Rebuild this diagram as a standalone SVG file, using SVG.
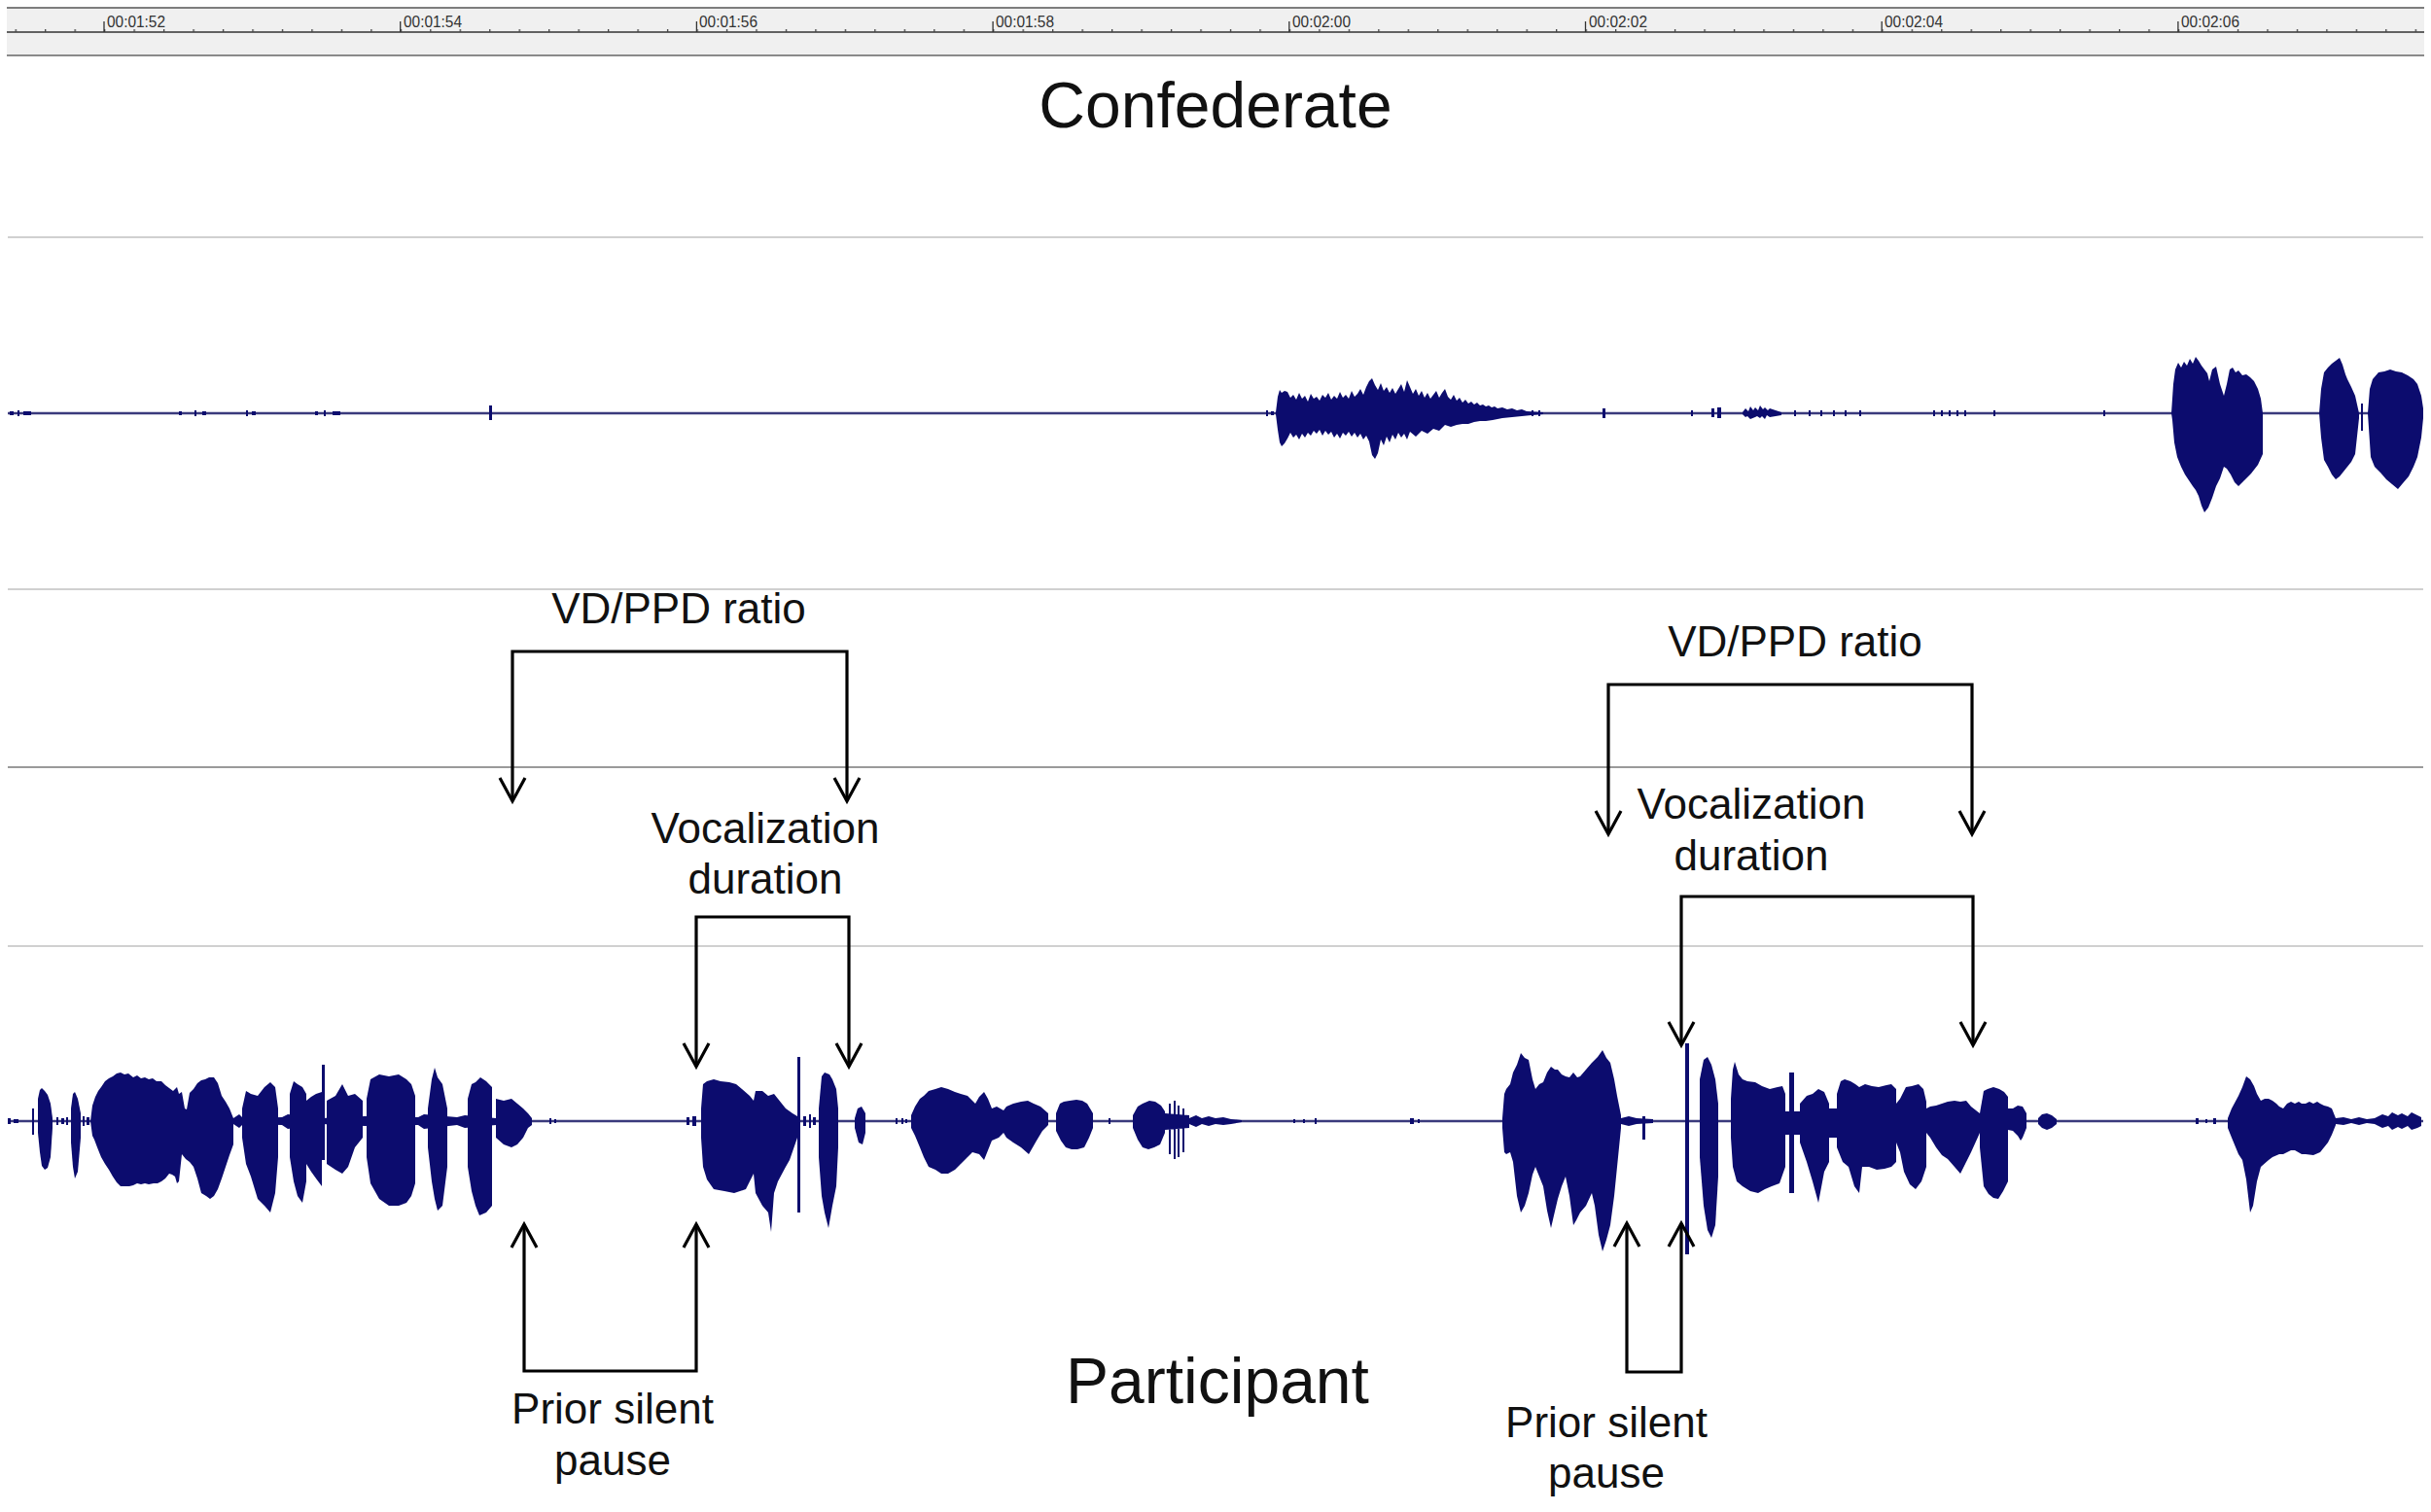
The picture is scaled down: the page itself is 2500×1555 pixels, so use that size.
<svg xmlns="http://www.w3.org/2000/svg" width="2500" height="1555" viewBox="0 0 2500 1555">
<defs>
<style>
.wave path{fill:#0c0c6e;}
.base{stroke:#3a3a7c;stroke-width:2.5;}
.grid{stroke:#d0d0d0;stroke-width:2;}
.grid-dark{stroke:#9a9a9a;stroke-width:2;}
.lbl{font-family:"Liberation Sans",Arial,sans-serif;font-size:44px;fill:#111;text-anchor:middle;}
.title{font-size:66px;}
.conn{fill:none;stroke:#000;stroke-width:3.2;marker-start:url(#arr);marker-end:url(#arr);}
.tl{font-family:"Liberation Sans",Arial,sans-serif;font-size:16px;fill:#333;}
</style>
<marker id="arr" markerUnits="userSpaceOnUse" markerWidth="40" markerHeight="40" viewBox="-30 -20 40 40" refX="0" refY="0" orient="auto-start-reverse">
<path d="M-24,-13 L0,0 L-24,13" fill="none" stroke="#000" stroke-width="3.2"/>
</marker>
<pattern id="minor" patternUnits="userSpaceOnUse" x="15.6" y="0" width="30.47" height="60">
<rect x="0" y="30" width="1.3" height="3" fill="#444"/>
</pattern>
</defs>
<rect width="2500" height="1555" fill="#fff"/>

<g id="ruler">
<rect x="7" y="8" width="2486" height="49" fill="#f0f0f0"/>
<line x1="7" y1="8" x2="2493" y2="8" stroke="#555" stroke-width="1.5"/>
<line x1="7" y1="57" x2="2493" y2="57" stroke="#8a8a8a" stroke-width="2"/>
<line x1="7" y1="33" x2="2493" y2="33" stroke="#333" stroke-width="1.5"/>
<rect x="8" y="28" width="2485" height="6" fill="url(#minor)"/>
<path d="M107,22V33M411.7,22V33M716.4,22V33M1021.1,22V33M1325.8,22V33M1630.5,22V33M1935.2,22V33M2239.9,22V33" stroke="#333" stroke-width="1.3"/>
<text class="tl" x="110" y="28" textLength="60" lengthAdjust="spacingAndGlyphs">00:01:52</text>
<text class="tl" x="415" y="28" textLength="60" lengthAdjust="spacingAndGlyphs">00:01:54</text>
<text class="tl" x="719" y="28" textLength="60" lengthAdjust="spacingAndGlyphs">00:01:56</text>
<text class="tl" x="1024" y="28" textLength="60" lengthAdjust="spacingAndGlyphs">00:01:58</text>
<text class="tl" x="1329" y="28" textLength="60" lengthAdjust="spacingAndGlyphs">00:02:00</text>
<text class="tl" x="1634" y="28" textLength="60" lengthAdjust="spacingAndGlyphs">00:02:02</text>
<text class="tl" x="1938" y="28" textLength="60" lengthAdjust="spacingAndGlyphs">00:02:04</text>
<text class="tl" x="2243" y="28" textLength="60" lengthAdjust="spacingAndGlyphs">00:02:06</text>
</g>

<g id="gridlines">
<line class="grid" x1="8" y1="244" x2="2492" y2="244"/>
<line class="grid" x1="8" y1="606" x2="2492" y2="606"/>
<line class="grid-dark" x1="8" y1="789" x2="2492" y2="789"/>
<line class="grid" x1="8" y1="973" x2="2492" y2="973"/>
</g>

<g id="wave-confederate" class="wave">
<line class="base" x1="8" y1="425" x2="2492" y2="425"/>
<path d="M10,423h4v4h-4Z M18,422h2v6h-2Z M24,423h8v4h-8Z M184,423h3v4h-3Z M200,422h2v6h-2Z M208,423h4v4h-4Z M253,422h2v6h-2Z M259,423h4v4h-4Z M324,423h3v4h-3Z M333,422h2v6h-2Z M342,423h8v4h-8Z M503,417h3v15h-3Z M1302,422h2v6h-2Z M1307,423h3v4h-3Z M1575,422h2v6h-2Z M1582,422h2v6h-2Z M1648,420h3v10h-3Z M1739,422h2v6h-2Z M1760,420h3v9h-3Z M1766,419h4v11h-4Z M1845,422h2v6h-2Z M1860,422h2v6h-2Z M1872,422h2v6h-2Z M1885,422h2v6h-2Z M1897,422h2v6h-2Z M1912,422h2v6h-2Z M1988,422h2v6h-2Z M1996,422h2v6h-2Z M2004,422h2v6h-2Z M2012,422h2v6h-2Z M2020,422h2v6h-2Z M2050,422h2v6h-2Z M2163,422h2v6h-2Z"/>
<path d="M1312,424 L1314,408 L1316,401 L1318,404 L1321,402 L1324,403 L1327,409 L1330,406 L1333,411 L1336,404 L1339,410 L1342,407 L1345,413 L1348,405 L1351,410 L1354,408 L1357,412 L1360,406 L1363,409 L1366,404 L1369,411 L1372,407 L1375,410 L1378,403 L1381,409 L1384,406 L1387,410 L1390,402 L1393,408 L1396,405 L1399,400 L1402,406 L1405,398 L1408,392 L1411,389 L1414,396 L1417,401 L1420,394 L1423,402 L1426,398 L1429,404 L1432,399 L1435,405 L1438,400 L1441,395 L1444,403 L1447,391 L1450,398 L1453,405 L1456,400 L1459,407 L1462,402 L1465,409 L1468,404 L1471,410 L1474,406 L1477,402 L1480,409 L1483,404 L1486,400 L1489,408 L1492,411 L1495,406 L1498,412 L1501,409 L1504,414 L1507,411 L1510,415 L1513,413 L1516,416 L1519,414 L1522,417 L1525,416 L1528,418 L1531,417 L1534,419 L1537,418 L1540,420 L1545,419 L1550,421 L1555,420 L1560,422 L1565,421 L1570,423 L1587,424 L1587,426 L1575,427 L1565,428 L1555,429 L1545,430 L1535,432 L1528,433 L1522,433 L1516,434 L1510,436 L1504,436 L1498,437 L1492,439 L1486,437 L1480,443 L1474,441 L1468,446 L1462,443 L1456,449 L1450,444 L1447,452 L1444,446 L1441,450 L1438,445 L1435,452 L1432,447 L1429,455 L1426,449 L1423,458 L1420,452 L1417,466 L1414,472 L1411,468 L1408,454 L1405,448 L1402,452 L1399,446 L1396,450 L1393,445 L1390,449 L1387,444 L1384,448 L1381,445 L1378,451 L1375,446 L1372,450 L1369,444 L1366,447 L1363,443 L1360,448 L1357,442 L1354,446 L1351,443 L1348,448 L1345,445 L1342,450 L1339,446 L1336,452 L1333,447 L1330,450 L1327,445 L1324,451 L1321,456 L1318,459 L1316,455 L1314,442 L1312,426 Z"/>
<path d="M1792,424 L1795,420 L1798,423 L1800,418 L1803,422 L1805,419 L1808,422 L1810,417 L1813,421 L1815,419 L1818,422 L1820,420 L1826,422 L1832,424 L1832,427 L1826,428 L1820,429 L1817,427 L1815,431 L1812,428 L1810,430 L1807,428 L1805,429 L1800,431 L1797,428 L1795,429 L1792,426 Z"/>
<path d="M2233,425 L2235,395 L2237,380 L2240,373 L2243,378 L2246,372 L2249,376 L2252,369 L2255,374 L2258,367 L2261,371 L2264,376 L2267,380 L2270,384 L2272,392 L2275,380 L2279,377 L2283,395 L2287,407 L2290,395 L2293,380 L2296,378 L2299,383 L2302,381 L2306,386 L2310,385 L2314,388 L2318,392 L2322,400 L2325,410 L2327,425 L2327,467 L2322,478 L2315,487 L2308,494 L2302,500 L2298,496 L2294,488 L2290,482 L2287,480 L2283,492 L2279,500 L2275,512 L2271,522 L2267,527 L2264,520 L2261,510 L2258,504 L2255,500 L2251,494 L2247,488 L2243,480 L2239,470 L2236,455 L2234,432 Z"/>
<path d="M2385,425 L2387,400 L2390,383 L2394,378 L2398,374 L2402,371 L2406,368 L2409,375 L2412,385 L2414,390 L2418,398 L2422,407 L2426,425 L2426,430 L2422,467 L2418,475 L2414,480 L2410,485 L2406,490 L2402,493 L2398,488 L2394,480 L2390,473 L2387,450 Z"/>
<path d="M2428,415h2v28h-2Z"/>
<path d="M2435,425 L2437,400 L2440,390 L2446,383 L2452,382 L2458,380 L2464,382 L2470,383 L2476,386 L2482,390 L2486,395 L2490,407 L2492,420 L2492,430 L2490,450 L2486,470 L2482,480 L2477,490 L2471,497 L2466,503 L2460,498 L2454,493 L2448,486 L2442,480 L2438,470 L2436,440 Z"/>
</g>

<g id="wave-participant" class="wave">
<line class="base" x1="8" y1="1153" x2="2492" y2="1153"/>
<path d="M8,1150h3v6h-3Z M14,1151h5v4h-5Z M58,1149h2v8h-2Z M63,1150h3v6h-3Z M68,1149h2v8h-2Z M85,1148h2v10h-2Z M89,1149h3v8h-3Z M565,1150h2v6h-2Z M570,1151h2v4h-2Z M706,1149h3v8h-3Z M712,1148h4v10h-4Z M826,1148h3v10h-3Z M832,1146h2v14h-2Z M836,1149h3v8h-3Z M921,1150h2v6h-2Z M927,1150h2v6h-2Z M931,1151h2v4h-2Z M1140,1150h2v6h-2Z M1330,1151h2v4h-2Z M1340,1151h2v4h-2Z M1352,1150h2v6h-2Z M1450,1150h4v6h-4Z M1458,1151h2v4h-2Z M2258,1150h3v6h-3Z M2268,1151h2v4h-2Z M2276,1150h3v6h-3Z"/>
<path d="M240,1150 L246,1146 L250,1150 L290,1149 L296,1146 L330,1150 L375,1148 L430,1149 L436,1146 L470,1149 L478,1147 L510,1150 L547,1151 L547,1155 L510,1157 L478,1160 L470,1157 L436,1161 L430,1157 L375,1158 L330,1156 L296,1161 L290,1157 L250,1156 L246,1160 L240,1156 Z"/>
<path d="M1223,1150 L1230,1147 L1236,1150 L1243,1148 L1250,1150 L1258,1149 L1266,1151 L1277,1152 L1277,1154 L1266,1156 L1258,1157 L1250,1156 L1243,1158 L1236,1156 L1230,1159 L1223,1156 Z"/>
<path d="M1667,1150 L1675,1148 L1683,1150 L1700,1151 L1700,1155 L1683,1156 L1675,1158 L1667,1156 Z"/>
<path d="M2402,1150 L2410,1149 L2418,1151 L2426,1149 L2434,1151 L2442,1150 L2450,1146 L2456,1148 L2460,1144 L2466,1147 L2470,1145 L2476,1148 L2480,1144 L2486,1147 L2490,1149 L2490,1158 L2486,1160 L2480,1162 L2476,1158 L2470,1161 L2466,1159 L2460,1162 L2456,1158 L2450,1160 L2442,1156 L2434,1155 L2426,1157 L2418,1155 L2410,1157 L2402,1156 Z"/>
<path d="M33,1140h2v27h-2Z"/>
<path d="M39,1153 L39,1130 L41,1121 L43,1119 L46,1122 L49,1126 L52,1135 L54,1150 L54,1160 L52,1190 L49,1201 L46,1203 L43,1199 L41,1185 L39,1165 Z"/>
<path d="M73,1153 L73,1140 L75,1125 L77,1123 L80,1130 L83,1145 L83,1170 L80,1205 L77,1212 L75,1200 L73,1175 Z"/>
<path d="M93,1153 L95,1137 L98,1128 L101,1122 L104,1118 L108,1112 L112,1109 L116,1107 L120,1104 L124,1103 L128,1105 L132,1104 L137,1108 L141,1106 L145,1109 L149,1108 L153,1110 L157,1109 L161,1112 L166,1112 L170,1116 L174,1119 L178,1122 L182,1118 L184,1125 L187,1123 L190,1140 L192,1141 L195,1124 L199,1120 L203,1114 L207,1111 L211,1110 L215,1108 L220,1108 L224,1114 L228,1127 L232,1133 L236,1140 L240,1150 L240,1177 L236,1188 L232,1200 L228,1212 L224,1223 L220,1230 L216,1233 L212,1230 L207,1227 L203,1212 L199,1200 L195,1195 L191,1192 L187,1187 L184,1215 L182,1217 L180,1210 L177,1208 L174,1207 L170,1212 L166,1215 L162,1217 L158,1217 L153,1218 L149,1217 L145,1218 L141,1217 L137,1219 L133,1220 L129,1220 L124,1220 L120,1216 L116,1210 L112,1203 L108,1197 L104,1190 L100,1180 L97,1172 L95,1168 Z"/>
<path d="M249,1140 L253,1122 L258,1125 L265,1127 L272,1118 L278,1113 L283,1118 L286,1140 L286,1190 L283,1227 L278,1247 L272,1240 L265,1233 L258,1210 L253,1197 L249,1170 Z"/>
<path d="M298,1125 L302,1112 L306,1115 L311,1118 L315,1125 L315,1215 L311,1237 L306,1230 L302,1215 L298,1190 Z"/>
<path d="M315,1132 L320,1128 L325,1125 L331,1123 L331,1220 L325,1212 L320,1205 L315,1197 Z"/>
<path d="M331,1095h3v98h-3Z"/>
<path d="M336,1132 L345,1127 L352,1115 L358,1127 L365,1125 L373,1132 L373,1170 L365,1180 L358,1200 L352,1207 L345,1203 L336,1197 Z"/>
<path d="M377,1130 L381,1110 L390,1105 L400,1107 L410,1105 L418,1110 L423,1115 L427,1127 L427,1217 L423,1230 L418,1237 L410,1240 L400,1240 L390,1233 L381,1217 L377,1190 Z"/>
<path d="M440,1140 L444,1110 L447,1098 L450,1108 L455,1115 L460,1140 L460,1200 L455,1240 L450,1245 L447,1233 L444,1215 L440,1180 Z"/>
<path d="M481,1130 L485,1115 L489,1113 L494,1108 L500,1112 L506,1118 L506,1240 L500,1247 L493,1250 L489,1240 L485,1225 L481,1200 Z"/>
<path d="M510,1130 L518,1132 L526,1130 L532,1135 L538,1140 L543,1145 L547,1150 L547,1157 L543,1160 L538,1170 L532,1177 L526,1180 L518,1177 L510,1170 Z"/>
<path d="M721,1140 L723,1115 L727,1112 L734,1110 L741,1112 L750,1113 L757,1115 L763,1120 L771,1127 L775,1132 L775,1207 L767,1223 L755,1227 L745,1225 L734,1223 L727,1213 L723,1200 L721,1170 Z"/>
<path d="M775,1132 L777,1122 L784,1122 L790,1127 L796,1125 L800,1130 L808,1140 L815,1145 L820,1148 L820,1170 L812,1193 L808,1200 L800,1215 L796,1227 L793,1267 L790,1247 L784,1240 L777,1227 L775,1207 Z"/>
<path d="M820,1087h3v160h-3Z"/>
<path d="M842,1140 L845,1107 L848,1103 L853,1105 L856,1110 L860,1120 L862,1140 L862,1180 L860,1220 L856,1240 L852,1263 L848,1247 L845,1230 L842,1190 Z"/>
<path d="M879,1150 L882,1140 L886,1138 L890,1145 L890,1165 L887,1177 L883,1175 L879,1160 Z"/>
<path d="M937,1147 L941,1138 L946,1130 L950,1127 L955,1122 L962,1120 L968,1118 L975,1120 L982,1123 L988,1125 L995,1127 L1003,1135 L1007,1128 L1012,1123 L1016,1130 L1020,1140 L1025,1138 L1032,1142 L1032,1165 L1027,1170 L1020,1173 L1012,1193 L1007,1187 L1000,1185 L995,1190 L988,1197 L982,1203 L975,1207 L968,1207 L962,1203 L955,1200 L950,1190 L946,1180 L941,1168 L937,1160 Z"/>
<path d="M1032,1142 L1035,1138 L1042,1135 L1050,1133 L1057,1132 L1063,1135 L1070,1138 L1078,1145 L1078,1157 L1072,1163 L1066,1173 L1058,1187 L1050,1180 L1042,1175 L1035,1170 L1032,1165 Z"/>
<path d="M1086,1145 L1090,1135 L1094,1133 L1100,1132 L1107,1131 L1113,1132 L1118,1135 L1124,1145 L1124,1160 L1120,1170 L1115,1180 L1108,1182 L1102,1182 L1096,1180 L1091,1173 L1086,1163 Z"/>
<path d="M1165,1147 L1170,1138 L1175,1135 L1182,1132 L1188,1133 L1194,1137 L1198,1143 L1198,1165 L1193,1177 L1187,1180 L1181,1182 L1175,1180 L1170,1172 L1165,1160 Z"/>
<path d="M1198,1145 L1223,1147 L1223,1160 L1198,1162 Z M1202,1135h2v52h-2Z M1207,1132h2v60h-2Z M1211,1137h2v53h-2Z M1216,1140h2v45h-2Z"/>
<path d="M1545,1150 L1547,1125 L1549,1120 L1553,1115 L1556,1103 L1560,1095 L1564,1083 L1568,1088 L1572,1090 L1576,1110 L1579,1120 L1583,1115 L1587,1113 L1591,1103 L1595,1097 L1599,1100 L1602,1100 L1606,1105 L1610,1107 L1614,1108 L1618,1103 L1622,1108 L1625,1107 L1631,1100 L1637,1093 L1643,1087 L1648,1080 L1652,1088 L1656,1093 L1660,1110 L1663,1127 L1667,1147 L1667,1160 L1663,1200 L1660,1230 L1656,1260 L1652,1275 L1648,1287 L1644,1270 L1640,1240 L1637,1227 L1631,1240 L1625,1247 L1621,1255 L1618,1260 L1614,1230 L1610,1210 L1606,1220 L1602,1233 L1598,1250 L1595,1263 L1591,1245 L1587,1220 L1583,1210 L1579,1200 L1576,1208 L1572,1227 L1568,1240 L1564,1247 L1560,1230 L1556,1195 L1553,1185 L1549,1187 L1547,1185 L1545,1160 Z"/>
<path d="M1689,1148h3v24h-3Z"/>
<path d="M1733,1073h4v217h-4Z"/>
<path d="M1748,1110 L1752,1090 L1756,1087 L1760,1095 L1764,1110 L1767,1135 L1767,1210 L1764,1260 L1760,1273 L1756,1265 L1752,1240 L1748,1190 Z"/>
<path d="M1780,1130 L1782,1100 L1784,1092 L1788,1105 L1792,1110 L1797,1112 L1805,1113 L1812,1117 L1820,1120 L1828,1118 L1833,1117 L1836,1125 L1836,1200 L1830,1217 L1822,1220 L1815,1223 L1808,1227 L1800,1225 L1792,1220 L1786,1215 L1782,1200 L1780,1170 Z"/>
<path d="M1836,1143 L1851,1143 L1851,1167 L1836,1167 Z M1840,1103h5v124h-5Z"/>
<path d="M1851,1135 L1858,1127 L1864,1125 L1870,1120 L1876,1123 L1881,1135 L1881,1195 L1876,1205 L1870,1237 L1864,1215 L1858,1195 L1851,1175 Z"/>
<path d="M1881,1140 L1889,1140 L1889,1170 L1881,1170 Z"/>
<path d="M1889,1125 L1893,1112 L1897,1110 L1903,1112 L1908,1115 L1912,1118 L1918,1115 L1925,1117 L1932,1118 L1940,1116 L1945,1115 L1950,1120 L1950,1195 L1945,1200 L1938,1202 L1930,1203 L1922,1200 L1915,1200 L1912,1227 L1907,1220 L1901,1200 L1895,1195 L1889,1180 Z"/>
<path d="M1950,1135 L1954,1130 L1960,1118 L1966,1117 L1973,1115 L1978,1120 L1981,1133 L1981,1200 L1976,1215 L1970,1223 L1964,1218 L1958,1205 L1954,1185 L1950,1175 Z"/>
<path d="M1981,1140 L1985,1138 L1991,1137 L1997,1135 L2003,1133 L2010,1132 L2016,1133 L2022,1132 L2027,1138 L2036,1145 L2036,1165 L2027,1185 L2022,1195 L2016,1207 L2010,1200 L2003,1192 L1997,1188 L1991,1180 L1985,1170 L1981,1165 Z"/>
<path d="M2036,1145 L2040,1122 L2044,1120 L2050,1118 L2056,1120 L2061,1123 L2065,1128 L2065,1215 L2060,1225 L2055,1233 L2050,1232 L2045,1228 L2040,1220 L2036,1180 Z"/>
<path d="M2065,1140 L2070,1140 L2075,1137 L2080,1138 L2084,1145 L2084,1160 L2080,1170 L2078,1173 L2075,1168 L2070,1163 L2065,1162 Z"/>
<path d="M2096,1150 L2100,1146 L2105,1145 L2110,1147 L2115,1151 L2115,1156 L2110,1160 L2105,1162 L2100,1160 L2096,1156 Z"/>
<path d="M2291,1150 L2295,1140 L2302,1127 L2306,1118 L2310,1107 L2314,1110 L2318,1117 L2321,1125 L2325,1132 L2329,1130 L2333,1130 L2337,1132 L2341,1135 L2344,1138 L2348,1140 L2352,1135 L2356,1133 L2360,1135 L2364,1133 L2367,1135 L2371,1135 L2375,1133 L2379,1135 L2383,1133 L2386,1135 L2390,1137 L2394,1138 L2398,1140 L2402,1150 L2402,1157 L2398,1167 L2394,1175 L2390,1180 L2386,1185 L2379,1188 L2371,1187 L2367,1187 L2360,1183 L2356,1183 L2348,1187 L2344,1187 L2337,1190 L2333,1193 L2325,1200 L2321,1215 L2317,1240 L2314,1247 L2310,1213 L2306,1193 L2302,1187 L2295,1170 L2291,1160 Z"/>
</g>

<g id="title-confederate"><text class="lbl title" x="1250" y="131">Confederate</text></g>
<g id="title-participant"><text class="lbl title" x="1252" y="1443">Participant</text></g>

<g id="label-ratio-1"><text class="lbl" x="698" y="641">VD/PPD ratio</text></g>
<g id="label-vd-1"><text class="lbl" x="787" y="867">Vocalization</text><text class="lbl" x="787" y="919">duration</text></g>
<g id="label-psp-1"><text class="lbl" x="630" y="1464">Prior silent</text><text class="lbl" x="630" y="1517">pause</text></g>
<g id="label-ratio-2"><text class="lbl" x="1846" y="675">VD/PPD ratio</text></g>
<g id="label-vd-2"><text class="lbl" x="1801" y="842">Vocalization</text><text class="lbl" x="1801" y="895">duration</text></g>
<g id="label-psp-2"><text class="lbl" x="1652" y="1478">Prior silent</text><text class="lbl" x="1652" y="1530">pause</text></g>

<g id="connectors">
<path class="conn" d="M527,824 V670 H871 V824"/>
<path class="conn" d="M716,1097 V943 H873 V1097"/>
<path class="conn" d="M539,1259 V1410 H716 V1259"/>
<path class="conn" d="M1654,858 V704 H2028 V858"/>
<path class="conn" d="M1729,1075 V922 H2029 V1075"/>
<path class="conn" d="M1673,1258 V1411 H1729 V1258"/>
</g>
</svg>
